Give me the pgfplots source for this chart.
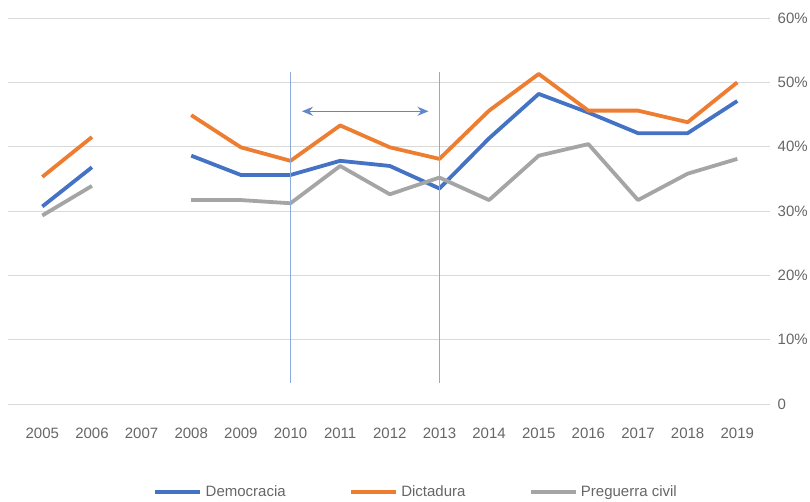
\documentclass[border=0pt]{standalone}
\usepackage{pgfplots}
\pgfplotsset{compat=1.18}
\usepackage{fontspec}
\setmainfont{Liberation Sans}
\usetikzlibrary{arrows.meta}
\definecolor{cblue}{HTML}{4472C4}
\definecolor{corange}{HTML}{ED7D31}
\definecolor{cgray}{HTML}{A5A5A5}
\definecolor{vline}{HTML}{8EA9DB}
\definecolor{gridc}{HTML}{D9D9D9}
\definecolor{txt}{HTML}{666666}
\begin{document}
\begin{tikzpicture}
\useasboundingbox (-8.3bp,-98bp) rectangle (801.7bp,404bp);
\begin{axis}[at={(0,0)}, anchor=south west, scale only axis,
  width=761.7bp, height=386bp,
  xmin=2004.315, xmax=2019.659, ymin=0, ymax=60,
  axis line style={draw=none}, major tick length=0pt,
  ymajorgrids, grid style={draw=gridc, line width=0.9bp},
  ytick={0,10,...,60}, yticklabels={0,10\%,20\%,30\%,40\%,50\%,60\%},
  yticklabel pos=right,
  yticklabel style={anchor=west, inner sep=0pt, xshift=7.5bp,
    font=\fontsize{15bp}{17bp}\selectfont, text=txt},
  xtick={2005,2006,...,2019},
  /pgf/number format/assume math mode=true,
  xticklabel style={anchor=north, inner sep=0pt, yshift=-23.5bp,
    font=\fontsize{15bp}{17bp}\selectfont, text=txt,
    /pgf/number format/1000 sep={}},
  unbounded coords=jump,
  legend columns=3,
  legend style={draw=none, fill=none, at={(0.19,-0.228)}, anchor=west,
    inner sep=0pt, font=\fontsize{15bp}{17bp}\selectfont, text=txt,
    /tikz/every even column/.append style={column sep=60bp},
    nodes={inner sep=3bp}},
  legend image code/.code={\draw[line width=4.5bp] (0bp,0bp) -- (45bp,0bp);},
]
\addplot[cblue, line width=3.8bp, line join=round] coordinates {
 (2005,30.7) (2006,36.8) (2007,nan) (2008,38.6) (2009,35.6) (2010,35.6)
 (2011,37.8) (2012,37.0) (2013,33.5) (2014,41.3) (2015,48.2) (2016,45.3)
 (2017,42.1) (2018,42.1) (2019,47.1)};
\addlegendentry{Democracia}
\addplot[corange, line width=3.8bp, line join=round] coordinates {
 (2005,35.3) (2006,41.5) (2007,nan) (2008,44.9) (2009,39.9) (2010,37.8)
 (2011,43.3) (2012,39.9) (2013,38.1) (2014,45.6) (2015,51.3) (2016,45.6)
 (2017,45.6) (2018,43.8) (2019,50.0)};
\addlegendentry{Dictadura}
\addplot[cgray, line width=3.8bp, line join=round] coordinates {
 (2005,29.3) (2006,33.9) (2007,nan) (2008,31.7) (2009,31.7) (2010,31.2)
 (2011,37.0) (2012,32.6) (2013,35.2) (2014,31.7) (2015,38.6) (2016,40.4)
 (2017,31.7) (2018,35.8) (2019,38.1)};
\addlegendentry{Preguerra civil}
\addplot[forget plot, vline, line width=1.6bp] coordinates {(2010,3.3) (2010,51.6)};
\addplot[forget plot, vline, line width=1.6bp] coordinates {(2013,3.3) (2013,51.6)};
\addplot[forget plot, cblue!85, line width=1.5bp,
  {Stealth[length=11bp,width=9bp]}-{Stealth[length=11bp,width=9bp]}]
  coordinates {(2010.23,45.5) (2012.78,45.5)};
\end{axis}
\end{tikzpicture}
\end{document}
